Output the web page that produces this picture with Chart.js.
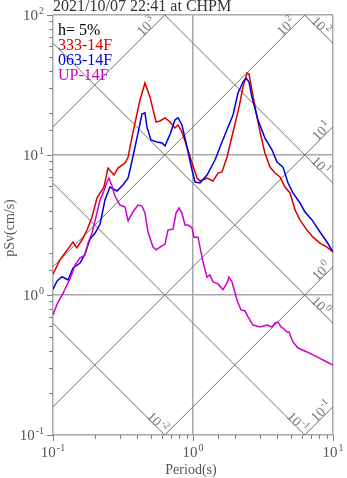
<!DOCTYPE html>
<html><head><meta charset="utf-8">
<script src="https://cdn.jsdelivr.net/npm/chart.js@4.4.1/dist/chart.umd.min.js"></script>
<style>html,body{margin:0;padding:0;background:#fff;}#wrap{width:347px;height:478px;}</style>
</head><body><div id="wrap"><canvas id="c" width="347" height="478"></canvas></div>
<script>
// ---- data ----
const titleText = '2021/10/07 22:41 at CHPM';
const dampingLabel = 'h= 5%';
const seriesNames = ['333-14F', '063-14F', 'UP-14F'];
const xTitle = 'Period(s)';
const yTitle = 'pSv(cm/s)';
const xTickExps = [-1, 0, 1];
const yTickExps = [-1, 0, 1, 2];
const dispLevels = [0.01, 0.1, 1, 10, 100];      // constant displacement (cm)
const accLevels = [0.1, 1, 10, 100, 1000];       // constant acceleration (cm/s2)

const redPeriod = [0.100,0.112,0.126,0.139,0.148,0.161,0.175,0.190,0.206,0.217,0.231,0.247,0.273,0.291,0.327,0.344,0.372,0.418,0.454,0.493,0.545,0.581,0.631,0.686,0.743,0.782,0.834,0.906,0.984,1.069,1.122,1.259,1.390,1.510,1.611,1.750,1.932,2.133,2.275,2.432,2.512,2.636,2.864,3.013,3.266,3.548,3.855,4.178,4.539,4.932,5.358,5.808,6.516,7.194,8.072,9.057,10.0];
const redSv = [1.41,1.78,2.09,2.39,2.17,2.47,2.91,3.61,4.93,5.36,5.90,8.07,7.19,8.07,8.77,9.68,14.4,24.7,32.7,25.9,17.2,17.5,18.4,17.2,15.6,16.4,14.6,11.4,8.77,6.85,6.52,6.85,6.52,7.43,7.57,9.68,14.6,22.0,30.6,38.5,37.9,29.1,18.7,14.6,10.3,8.20,7.43,6.97,5.90,5.36,4.05,3.44,2.91,2.59,2.35,2.20,2.03];

const bluePeriod = [0.100,0.107,0.116,0.128,0.139,0.156,0.169,0.184,0.200,0.217,0.235,0.255,0.286,0.316,0.344,0.372,0.405,0.432,0.454,0.469,0.501,0.553,0.601,0.631,0.686,0.743,0.782,0.834,0.906,0.984,1.033,1.122,1.259,1.436,1.611,1.778,1.932,2.096,2.275,2.391,2.512,2.636,2.912,3.266,3.665,3.981,4.395,4.775,5.179,5.808,6.310,7.079,8.072,9.057,10.0];
const blueSv = [1.10,1.26,1.35,1.28,1.56,1.69,1.96,2.51,2.77,3.21,4.77,5.90,5.53,6.11,6.85,9.68,14.4,19.6,20.0,15.8,12.8,12.4,12.2,11.6,14.1,17.8,18.4,16.4,11.4,7.81,6.41,6.31,7.19,9.21,12.4,15.8,19.3,27.7,33.2,35.5,33.2,25.9,17.8,13.2,10.9,8.91,8.20,6.31,5.36,4.54,3.92,3.44,2.82,2.39,2.03];

const upPeriod = [0.100,0.107,0.118,0.132,0.144,0.156,0.169,0.178,0.190,0.206,0.217,0.228,0.243,0.251,0.264,0.277,0.301,0.327,0.344,0.372,0.405,0.432,0.454,0.477,0.518,0.545,0.581,0.631,0.663,0.720,0.756,0.794,0.834,0.877,0.921,0.984,1.017,1.086,1.122,1.179,1.259,1.322,1.390,1.509,1.638,1.750,1.808,1.899,2.061,2.203,2.350,2.471,2.683,3.013,3.380,3.665,3.853,4.050,4.254,4.467,4.690,4.850,5.179,5.623,6.516,7.690,9.057,10.0];
const upSv = [0.720,0.862,1.03,1.30,1.64,1.84,1.93,2.35,2.77,3.85,4.77,5.36,6.41,6.85,6.01,5.09,4.39,4.25,3.38,3.92,4.39,4.32,3.85,2.82,2.20,2.10,2.20,2.31,2.91,2.96,3.85,4.18,3.85,3.16,3.16,3.01,2.59,2.59,2.20,1.72,1.34,1.39,1.24,1.20,1.09,1.22,1.34,1.24,0.921,0.782,0.769,0.697,0.610,0.591,0.610,0.591,0.631,0.641,0.591,0.572,0.544,0.544,0.462,0.418,0.392,0.361,0.332,0.316];

const seriesColors = ['#dd0000', '#0000dd', '#d000d0'];
const TWO_PI = 2 * Math.PI;

const pts = (xs, ys) => xs.map((t, i) => ({x: t, y: ys[i]}));
const isDecade = v => Math.abs(Math.log10(v) - Math.round(Math.log10(v))) < 1e-6;

const datasets = [];
datasets.push({data: pts(upPeriod, upSv), borderColor: seriesColors[2], borderWidth: 1.5, order: 1});
datasets.push({data: pts(bluePeriod, blueSv), borderColor: seriesColors[1], borderWidth: 1.5, order: 2});
datasets.push({data: pts(redPeriod, redSv), borderColor: seriesColors[0], borderWidth: 1.5, order: 3});
dispLevels.forEach(d => datasets.push({
  data: [0.01, 100].map(t => ({x: t, y: TWO_PI * d / t})),
  borderColor: '#707070', borderWidth: 1, order: 10, kind: 'disp', level: d
}));
accLevels.forEach(a => datasets.push({
  data: [0.01, 100].map(t => ({x: t, y: a * t / TWO_PI})),
  borderColor: '#707070', borderWidth: 1, order: 10, kind: 'acc', level: a
}));
datasets.forEach(ds => { ds.showLine = true; ds.pointRadius = 0; ds.fill = false; ds.tension = 0; });

const SERIF = '"Liberation Serif", "Times New Roman", serif';

function drawPow(ctx, exp, x, y, baseSize, expSize, align) {
  const base = '10', e = String(exp);
  ctx.font = baseSize + 'px ' + SERIF;
  const wb = ctx.measureText(base).width;
  ctx.font = expSize + 'px ' + SERIF;
  const we = ctx.measureText(e).width;
  const total = wb + we + 1;
  let x0 = x;
  if (align === 'center') x0 = x - total / 2;
  else if (align === 'right') x0 = x - total;
  ctx.textAlign = 'left';
  ctx.textBaseline = 'alphabetic';
  ctx.font = baseSize + 'px ' + SERIF;
  ctx.fillText(base, x0, y);
  ctx.font = expSize + 'px ' + SERIF;
  ctx.fillText(e, x0 + wb + 1, y - baseSize * 0.42);
}

const decor = {
  id: 'decor',
  afterDraw(chart) {
    const ctx = chart.ctx, xs = chart.scales.x, ys = chart.scales.y, ca = chart.chartArea;
    ctx.save();
    // ticks
    ctx.strokeStyle = '#808080'; ctx.lineWidth = 1;
    xs.ticks.forEach(t => {
      const px = Math.round(xs.getPixelForValue(t.value)) + 0.5;
      const len = isDecade(t.value) ? 6 : 4;
      ctx.beginPath(); ctx.moveTo(px, ca.bottom); ctx.lineTo(px, ca.bottom + len); ctx.stroke();
    });
    ys.ticks.forEach(t => {
      const py = Math.round(ys.getPixelForValue(t.value)) + 0.5;
      const len = isDecade(t.value) ? 6 : 4;
      ctx.beginPath(); ctx.moveTo(ca.left, py); ctx.lineTo(ca.left - len, py); ctx.stroke();
    });
    // tick labels
    ctx.fillStyle = '#555';
    xTickExps.forEach(e => drawPow(ctx, e, xs.getPixelForValue(Math.pow(10, e)), ca.bottom + 22, 15, 10, 'center'));
    yTickExps.forEach(e => drawPow(ctx, e, ca.left - 9, ys.getPixelForValue(Math.pow(10, e)) + 5, 15, 10, 'right'));
    // axis titles
    ctx.font = '14px ' + SERIF; ctx.textAlign = 'center'; ctx.textBaseline = 'alphabetic';
    ctx.fillText(xTitle, (ca.left + ca.right) / 2 - 2, 474);
    ctx.save(); ctx.translate(14, (ca.top + ca.bottom) / 2 + 3); ctx.rotate(-Math.PI / 2);
    ctx.fillText(yTitle, 0, 0); ctx.restore();
    // title
    ctx.fillStyle = '#333'; ctx.font = '16px ' + SERIF; ctx.textAlign = 'left';
    ctx.fillText(titleText, ca.left, 11);
    // legend
    ctx.fillStyle = '#000'; ctx.fillText(dampingLabel, 58, 35);
    seriesNames.forEach((n, i) => { ctx.fillStyle = seriesColors[i]; ctx.fillText(n, 58, 50 + 15 * i); });
    // diagonal labels
    ctx.fillStyle = '#777';
    chart.data.datasets.forEach(ds => {
      if (!ds.kind) return;
      let tE, sE, exitSide;
      if (ds.kind === 'acc') {
        tE = Math.min(xs.max, TWO_PI * ys.max / ds.level);
        exitSide = tE < xs.max - 1e-9 ? 'top' : 'right';
        sE = ds.level * tE / TWO_PI;
      } else {
        tE = Math.min(xs.max, TWO_PI * ds.level / ys.min);
        exitSide = tE < xs.max - 1e-9 ? 'bottom' : 'right';
        sE = TWO_PI * ds.level / tE;
      }
      const ex = xs.getPixelForValue(tE), ey = ys.getPixelForValue(sE);
      let cx, cy, ang;
      if (ds.kind === 'acc') {
        ang = -Math.PI / 4;
        const d = exitSide === 'top' ? 15 : 8, p = 4;
        cx = ex - d - p; cy = ey + d - p;
      } else {
        ang = Math.PI / 4;
        const d = exitSide === 'bottom' ? 10 : 15, p = 3;
        cx = ex - d + p; cy = ey - d - p;
      }
      ctx.save(); ctx.translate(cx, cy); ctx.rotate(ang);
      drawPow(ctx, Math.round(Math.log10(ds.level)), 0, 5, 14, 10, 'center');
      ctx.restore();
    });
    ctx.restore();
  }
};

const gridColor = c => (c.tick && isDecade(c.tick.value)) ? '#a8a8a8' : 'rgba(0,0,0,0)';

new Chart(document.getElementById('c'), {
  type: 'scatter',
  data: {datasets},
  options: {
    responsive: false, animation: false, devicePixelRatio: 1,
    layout: {padding: {left: 53, right: 14, top: 15, bottom: 43}},
    plugins: {legend: {display: false}, tooltip: {enabled: false}},
    scales: {
      x: {type: 'logarithmic', min: 0.1, max: 10, ticks: {display: false},
          grid: {color: gridColor, lineWidth: 1.5, drawTicks: false}, border: {display: false}},
      y: {type: 'logarithmic', min: 0.1, max: 100, ticks: {display: false},
          grid: {color: gridColor, lineWidth: 1.5, drawTicks: false}, border: {display: false}}
    }
  },
  plugins: [decor]
});
</script></body></html>
